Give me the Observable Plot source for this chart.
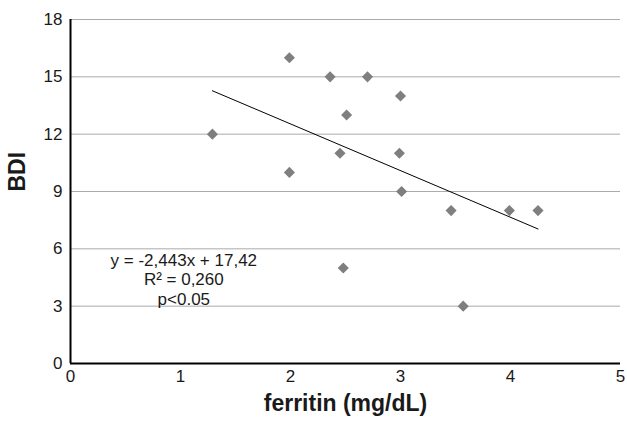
<!DOCTYPE html>
<html>
<head>
<meta charset="utf-8">
<script src="https://cdn.jsdelivr.net/npm/d3@7"></script>
<script src="https://cdn.jsdelivr.net/npm/@observablehq/plot@0.6"></script>
<style>
  html, body { margin: 0; padding: 0; background: #fff; }
  #chart svg { display: block; }
</style>
</head>
<body>
<div id="chart"></div>
<script>
// Data
const ferritin = [1.29, 1.99, 1.99, 2.36, 2.70, 3.00, 2.51, 2.45, 2.99, 3.01, 3.46, 3.99, 4.25, 2.48, 3.57];
const bdi      = [12,   16,   10,   15,   15,   14,   13,   11,   11,   9,    8,    8,    8,    5,    3];

// Trend line (y = -2.443x + 17.42) endpoints as drawn
const trendX = [1.29, 4.25];
const trendY = [14.27, 7.04];

// Annotation
const annotText = ["y = -2,443x + 17,42", "R² = 0,260", "p<0.05"];
const annotX = [1.03, 1.03, 1.03];
const annotY = [5.39, 4.40, 3.35];

const xTicks = [0, 1, 2, 3, 4, 5];
const yTicks = [0, 3, 6, 9, 12, 15, 18];

const points = ferritin.map((f, i) => ({x: f, y: bdi[i]}));
const trend = trendX.map((x, i) => ({x, y: trendY[i]}));
const annot = annotText.map((t, i) => ({t, x: annotX[i], y: annotY[i]}));

const chart = Plot.plot({
  width: 627,
  height: 423,
  marginLeft: 70,
  marginRight: 7,
  marginTop: 19,
  marginBottom: 60,
  style: {fontFamily: "'Liberation Sans', Arial, Helvetica, sans-serif", fontSize: "17px", color: "#1a1a1a", background: "#fff"},
  x: {domain: [0, 5], ticks: xTicks},
  y: {domain: [0, 18], ticks: yTicks},
  marks: [
    Plot.gridY(yTicks, {stroke: "#ababab", strokeOpacity: 1, strokeWidth: 1}),
    Plot.axisX(xTicks, {tickSize: 0, tickPadding: 6, label: null, fontSize: 17}),
    Plot.axisY(yTicks, {tickSize: 0, tickPadding: 8, label: null, fontSize: 17}),
    Plot.ruleX([0], {stroke: "#000", strokeWidth: 2}),
    Plot.ruleY([0], {stroke: "#000", strokeWidth: 2}),
    Plot.line(trend, {x: "x", y: "y", stroke: "#000", strokeWidth: 1}),
    Plot.dot(points, {x: "x", y: "y", symbol: "diamond2", r: 5, fill: "#7f7f7f", stroke: "none"}),
    Plot.text(annot, {x: "x", y: "y", text: "t", fontSize: 17, fill: "#1a1a1a", textAnchor: "middle"}),
    Plot.text(["BDI"], {frameAnchor: "left", rotate: -90, dx: -53, fontWeight: "bold", fontSize: 23, fill: "#1a1a1a"}),
    Plot.text(["ferritin (mg/dL)"], {frameAnchor: "bottom", dy: 47, fontWeight: "bold", fontSize: 23, fill: "#1a1a1a"})
  ]
});
document.getElementById("chart").appendChild(chart);
</script>
</body>
</html>
